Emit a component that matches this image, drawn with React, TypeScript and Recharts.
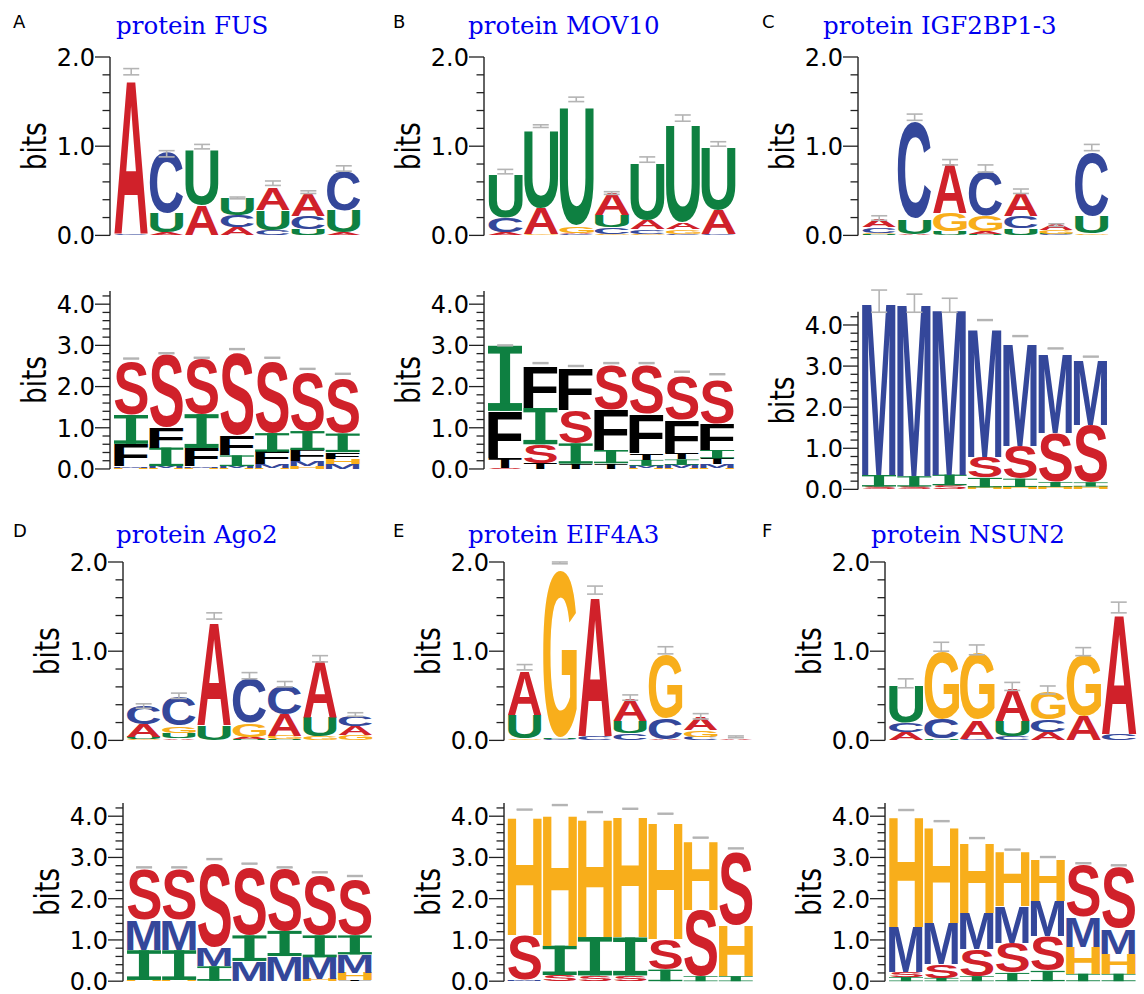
import React from 'react';
import { ComposedChart, Bar, Line, XAxis, YAxis, ErrorBar } from 'recharts';

// ---------- categories / ticks ----------
const POSITIONS = ['1', '2', '3', '4', '5', '6', '7'];
const LAYERS = [0, 1, 2, 3, 4, 5];
const TICKS_SEQ = [0, 0.2, 0.4, 0.6, 0.8, 1, 1.2, 1.4, 1.6, 1.8, 2];
const TICKS_STR = [0, 0.2, 0.4, 0.6, 0.8, 1, 1.2, 1.4, 1.6, 1.8, 2, 2.2, 2.4, 2.6, 2.8, 3, 3.2, 3.4, 3.6, 3.8, 4, 4.2];

// ---------- sequence logos (bits per nucleotide, positions 1..7) ----------
const FUS_SEQ = {
  A: [1.73, 0.03, 0.34, 0.09, 0.24, 0.25, 0.03],
  C: [0.02, 0.68, 0.0, 0.13, 0.06, 0.15, 0.45],
  G: [0.0, 0.0, 0.0, 0.0, 0.0, 0.0, 0.0],
  U: [0.0, 0.22, 0.62, 0.2, 0.22, 0.07, 0.25],
};
const FUS_SEQ_ERR = [[1.8, 1.87], [0.88, 0.95], [0.97, 1.02], [0.41, 0.43], [0.56, 0.61], [0.47, 0.5], [0.72, 0.78]];

const MOV10_SEQ = {
  A: [0.03, 0.29, 0.02, 0.24, 0.1, 0.07, 0.27],
  C: [0.17, 0.0, 0.01, 0.08, 0.05, 0.02, 0.01],
  G: [0.0, 0.01, 0.08, 0.01, 0.02, 0.05, 0.0],
  U: [0.49, 0.88, 1.35, 0.14, 0.64, 1.11, 0.71],
};
const MOV10_SEQ_ERR = [[0.69, 0.74], [1.21, 1.24], [1.5, 1.55], [0.46, 0.49], [0.82, 0.88], [1.28, 1.35], [1.0, 1.05]];

const IGF_SEQ = {
  A: [0.08, 0.01, 0.55, 0.03, 0.26, 0.07, 0.0],
  C: [0.06, 1.09, 0.0, 0.5, 0.14, 0.01, 0.72],
  G: [0.02, 0.0, 0.21, 0.18, 0.0, 0.04, 0.02],
  U: [0.01, 0.17, 0.04, 0.01, 0.08, 0.01, 0.19],
};
const IGF_SEQ_ERR = [[0.17, 0.22], [1.29, 1.36], [0.79, 0.85], [0.71, 0.79], [0.47, 0.52], [0.1, 0.13], [0.95, 1.02]];

const AGO2_SEQ = {
  A: [0.14, 0.02, 1.16, 0.03, 0.24, 0.64, 0.1],
  C: [0.21, 0.33, 0.0, 0.5, 0.33, 0.0, 0.12],
  G: [0.01, 0.08, 0.0, 0.15, 0.04, 0.04, 0.06],
  U: [0.03, 0.06, 0.17, 0.01, 0.01, 0.22, 0.0],
};
const AGO2_SEQ_ERR = [[0.36, 0.41], [0.47, 0.53], [1.36, 1.43], [0.69, 0.76], [0.6, 0.66], [0.88, 0.95], [0.27, 0.31]];

const EIF_SEQ = {
  A: [0.5, 0.0, 1.56, 0.25, 0.01, 0.14, 0.01],
  C: [0.0, 0.01, 0.05, 0.08, 0.24, 0.04, 0.0],
  G: [0.02, 1.88, 0.0, 0.0, 0.72, 0.08, 0.0],
  U: [0.27, 0.01, 0.0, 0.14, 0.0, 0.0, 0.0],
};
const EIF_SEQ_ERR = [[0.79, 0.85], [1.98, 2.0], [1.64, 1.73], [0.45, 0.51], [0.97, 1.05], [0.24, 0.3], [0.03, 0.05]];

const NSUN2_SEQ = {
  A: [0.09, 0.0, 0.21, 0.36, 0.09, 0.27, 1.35],
  C: [0.11, 0.22, 0.02, 0.04, 0.14, 0.0, 0.07],
  G: [0.0, 0.76, 0.74, 0.0, 0.31, 0.68, 0.0],
  U: [0.42, 0.02, 0.0, 0.18, 0.0, 0.0, 0.0],
};
const NSUN2_SEQ_ERR = [[0.59, 0.69], [1.0, 1.1], [0.96, 1.07], [0.56, 0.65], [0.52, 0.61], [0.95, 1.04], [1.43, 1.55]];

// ---------- structure logos (bits per structure context) ----------
const FUS_STR = {
  F: [0.55, 0.49, 0.45, 0.48, 0.31, 0.27, 0.16],
  T: [0, 0, 0, 0, 0, 0, 0],
  I: [0.7, 0.45, 0.82, 0.26, 0.45, 0.46, 0.45],
  H: [0.02, 0.02, 0.02, 0.02, 0.03, 0.07, 0.13],
  M: [0.04, 0.05, 0.04, 0.05, 0.08, 0.12, 0.12],
  S: [1.3, 1.78, 1.36, 2.0, 1.76, 1.42, 1.32],
};
const FUS_STR_ERR = [[2.67, 2.69], [2.8, 2.82], [2.69, 2.71], [2.9, 2.92], [2.69, 2.71], [2.42, 2.44], [2.3, 2.32]];

const MOV10_STR = {
  F: [1.14, 1.02, 1.02, 0.98, 0.95, 0.8, 0.63],
  T: [0.24, 0.14, 0.13, 0.13, 0.17, 0.15, 0.15],
  I: [1.58, 0.88, 0.49, 0.32, 0.14, 0.13, 0.2],
  H: [0.0, 0.0, 0.0, 0.0, 0.02, 0.02, 0.03],
  M: [0.0, 0.0, 0.0, 0.01, 0.06, 0.08, 0.08],
  S: [0.03, 0.46, 0.82, 1.1, 1.18, 1.06, 1.08],
};
const MOV10_STR_ERR = [[2.99, 3.01], [2.56, 2.58], [2.49, 2.51], [2.56, 2.58], [2.56, 2.58], [2.35, 2.37], [2.29, 2.31]];

const IGF_STR = {
  F: [0, 0, 0, 0, 0, 0, 0],
  T: [0, 0, 0, 0, 0, 0, 0],
  I: [0.28, 0.25, 0.26, 0.23, 0.2, 0.12, 0.1],
  H: [0.0, 0.0, 0.0, 0.05, 0.06, 0.06, 0.07],
  M: [4.24, 4.21, 4.07, 3.15, 2.52, 1.95, 1.58],
  S: [0.07, 0.07, 0.1, 0.5, 0.8, 1.2, 1.4],
};
const IGF_STR_ERR = [[4.31, 4.85], [4.31, 4.75], [4.31, 4.65], [4.11, 4.13], [3.72, 3.74], [3.42, 3.44], [3.22, 3.24]];

const AGO2_STR = {
  F: [0, 0, 0, 0, 0, 0, 0],
  T: [0, 0, 0, 0, 0, 0, 0.02],
  I: [0.72, 0.72, 0.35, 0.62, 0.61, 0.53, 0.46],
  H: [0.03, 0.03, 0.01, 0.01, 0.01, 0.06, 0.18],
  M: [0.74, 0.73, 0.45, 0.48, 0.6, 0.52, 0.45],
  S: [1.24, 1.22, 2.05, 1.65, 1.51, 1.44, 1.36],
};
const AGO2_STR_ERR = [[2.75, 2.77], [2.75, 2.77], [2.95, 2.97], [2.84, 2.86], [2.75, 2.77], [2.63, 2.65], [2.54, 2.56]];

const EIF_STR = {
  F: [0, 0, 0, 0, 0, 0, 0],
  T: [0, 0, 0, 0, 0, 0, 0],
  I: [0.0, 0.71, 0.93, 0.92, 0.28, 0.12, 0.12],
  H: [2.88, 3.2, 2.87, 2.94, 2.86, 1.66, 1.23],
  M: [0.02, 0, 0, 0, 0, 0, 0],
  S: [1.1, 0.15, 0.14, 0.14, 0.75, 1.6, 1.78],
};
const EIF_STR_ERR = [[4.15, 4.17], [4.26, 4.28], [4.09, 4.11], [4.17, 4.19], [4.05, 4.07], [3.47, 3.49], [3.21, 3.23]];

const NSUN2_STR = {
  F: [0, 0, 0, 0, 0, 0, 0],
  T: [0, 0, 0, 0, 0, 0, 0],
  I: [0.1, 0.08, 0.12, 0.2, 0.25, 0.18, 0.18],
  H: [2.68, 2.33, 1.71, 1.33, 1.0, 0.65, 0.49],
  M: [1.1, 1.0, 0.89, 0.89, 0.86, 0.73, 0.61],
  S: [0.12, 0.33, 0.65, 0.73, 0.84, 1.26, 1.5],
};
const NSUN2_STR_ERR = [[4.14, 4.16], [3.87, 3.89], [3.46, 3.48], [3.18, 3.2], [3.0, 3.02], [2.85, 2.87], [2.8, 2.82]];

// ---------- text ----------
const PANEL_TAGS = [
  { t: 'A', x: 13, y: 28 }, { t: 'B', x: 393, y: 28 }, { t: 'C', x: 762, y: 28 },
  { t: 'D', x: 13, y: 537 }, { t: 'E', x: 393, y: 537 }, { t: 'F', x: 762, y: 537 },
];
const TITLES = [
  { t: 'protein FUS', x: 116, y: 34 }, { t: 'protein MOV10', x: 468, y: 34 }, { t: 'protein IGF2BP1-3', x: 823, y: 34 },
  { t: 'protein Ago2', x: 116, y: 543 }, { t: 'protein EIF4A3', x: 468, y: 543 }, { t: 'protein NSUN2', x: 871, y: 543 },
];

// ---------- styling ----------
const COLORS: Record<string, string> = {
  A: '#D0212A', C: '#34479A', G: '#F8AE1B', U: '#0E8041',
  S: '#D0212A', I: '#0E8041', F: '#000000', T: '#000000', M: '#34479A', H: '#F8AE1B',
};
const GLYPH_FONT = 'Liberation Sans';
// fallback glyph ink boxes (font units at 2048px): xMin, xMax, yMin, yMax
const METRICS_FALLBACK: Record<string, number[]> = {
  A: [0, 1479, 0, 1466], C: [97, 1382, -25, 1491], G: [100, 1495, -25, 1491], U: [146, 1331, -25, 1466],
  S: [68, 1268, -25, 1491], M: [143, 1563, 0, 1466], F: [150, 1165, 0, 1466], H: [150, 1329, 0, 1466],
  T: [41, 1210, 0, 1466],
};
let METRICS_CACHE: Record<string, number[]> | null = null;
function glyphMetrics(): Record<string, number[]> {
  if (METRICS_CACHE) return METRICS_CACHE;
  const out: Record<string, number[]> = { ...METRICS_FALLBACK };
  try {
    const c = document.createElement('canvas');
    const ctx = c.getContext('2d');
    if (ctx) {
      ctx.font = `bold 2048px "${GLYPH_FONT}"`;
      ctx.textBaseline = 'alphabetic';
      ctx.textAlign = 'left';
      Object.keys(out).forEach((l) => {
        const m = ctx.measureText(l);
        const w = m.actualBoundingBoxRight + m.actualBoundingBoxLeft;
        const h = m.actualBoundingBoxAscent + m.actualBoundingBoxDescent;
        if (w > 100 && h > 100) {
          out[l] = [-m.actualBoundingBoxLeft, m.actualBoundingBoxRight, -m.actualBoundingBoxDescent, m.actualBoundingBoxAscent];
        }
      });
    }
  } catch (e) {
    // keep fallback
  }
  METRICS_CACHE = out;
  return out;
}

function buildRows(series: Record<string, number[]>, err: number[][]) {
  const letters = Object.keys(series);
  return POSITIONS.map((pos, i) => {
    const stack = letters
      .map((l) => ({ l, v: series[l][i] }))
      .filter((d) => d.v > 0)
      .sort((a, b) => a.v - b.v);
    const row: Record<string, any> = {
      pos,
      emid: (err[i][0] + err[i][1]) / 2,
      eerr: (err[i][1] - err[i][0]) / 2,
    };
    LAYERS.forEach((k) => {
      row['h' + k] = stack[k] ? stack[k].v : 0;
      row['l' + k] = stack[k] ? stack[k].l : '';
    });
    return row;
  });
}

function Glyph(props: any) {
  const { x, y, width, height, letter } = props;
  if (!letter || !(height > 0.35) || !(width > 0)) return null;
  const color = COLORS[letter];
  if (letter === 'I') {
    const bh = Math.max(Math.min(height * 0.12, height / 3), 0.7);
    const sw = width * 0.3;
    return (
      <g fill={color}>
        <rect x={x} y={y} width={width} height={bh} />
        <rect x={x + (width - sw) / 2} y={y} width={sw} height={height} />
        <rect x={x} y={y + height - bh} width={width} height={bh} />
      </g>
    );
  }
  const [x0, x1, y0, y1] = glyphMetrics()[letter];
  const sx = width / (x1 - x0);
  const sy = height / (y1 - y0);
  return (
    <text
      transform={`translate(${x - x0 * sx},${y + height + y0 * sy}) scale(${sx},${sy})`}
      fontFamily={GLYPH_FONT}
      fontWeight="bold"
      fontSize={2048}
      fill={color}
    >
      {letter}
    </text>
  );
}

function AxisTick(props: any) {
  const { x, y, payload } = props;
  const v = payload.value;
  const major = Math.abs(v - Math.round(v)) < 1e-6;
  return (
    <g>
      <line x1={x - (major ? 15 : 7.5)} x2={x} y1={y} y2={y} stroke="#222" strokeWidth={1.3} />
      {major && (
        <text x={x - 15} y={y} dy="0.37em" textAnchor="end" fontFamily="DejaVu Sans" fontSize={24} fill="#000">
          {v.toFixed(1)}
        </text>
      )}
    </g>
  );
}

type LogoProps = {
  rows: any[]; axisX: number; zeroY: number; ppb: number; domainMax: number; axisMax: number;
  ticks: number[]; plotRight: number; pad: number;
};

function Logo({ rows, axisX, zeroY, ppb, domainMax, axisMax, ticks, plotRight, pad }: LogoProps) {
  const YW = 105, MT = 14, MB = 18, MR = 4;
  const plotH = domainMax * ppb;
  const plotW = plotRight - axisX;
  const W = YW + plotW + MR;
  const H = MT + plotH + MB;
  const hidden = (domainMax - axisMax) * ppb;
  const axisLine: any = hidden > 0.01
    ? { stroke: '#222', strokeWidth: 1.4, strokeDasharray: `0 ${hidden} ${axisMax * ppb} 3000` }
    : { stroke: '#222', strokeWidth: 1.4 };
  const bits = (p: any) => {
    const vb = p && p.viewBox && p.viewBox.height ? p.viewBox : { x: 0, y: MT, width: YW, height: plotH };
    const ax = vb.x + vb.width;
    const cy = vb.y + vb.height * (1 - axisMax / 2 / domainMax);
    return (
      <text
        transform={`translate(${ax - 64},${cy}) rotate(-90)`}
        textAnchor="middle"
        fontFamily="DejaVu Sans"
        fontSize={33}
        textLength={48}
        lengthAdjust="spacingAndGlyphs"
        fill="#000"
      >
        bits
      </text>
    );
  };
  return (
    <div style={{ position: 'absolute', left: axisX - YW, top: zeroY - plotH - MT, width: W, height: H }}>
      <ComposedChart width={W} height={H} data={rows} margin={{ top: MT, right: MR, bottom: MB, left: 0 }} barCategoryGap={0.5}>
        <XAxis dataKey="pos" hide padding={{ left: pad, right: 0 }} />
        <YAxis
          type="number"
          domain={[0, domainMax]}
          ticks={ticks}
          interval={0}
          tick={(p: any) => <AxisTick {...p} />}
          tickSize={0}
          tickMargin={0}
          tickLine={false}
          axisLine={axisLine}
          width={YW}
          label={{ content: bits }}
        />
        {LAYERS.map((k) => (
          <Bar
            key={k}
            dataKey={'h' + k}
            stackId="s"
            isAnimationActive={false}
            shape={(p: any) => <Glyph {...p} letter={p.payload ? p.payload['l' + k] : ''} />}
          />
        ))}
        <Line dataKey="emid" stroke="none" dot={false} activeDot={false} isAnimationActive={false} legendType="none">
          <ErrorBar dataKey="eerr" width={8} stroke="#b4b4b4" strokeWidth={1.6} isAnimationActive={false} />
        </Line>
      </ComposedChart>
    </div>
  );
}

const PANELS = [
  { rows: buildRows(FUS_SEQ, FUS_SEQ_ERR), axisX: 110, zeroY: 235, ppb: 89.2, domainMax: 2, axisMax: 2, ticks: TICKS_SEQ, plotRight: 361.5, pad: 3.5 },
  { rows: buildRows(MOV10_SEQ, MOV10_SEQ_ERR), axisX: 484, zeroY: 235, ppb: 89.2, domainMax: 2, axisMax: 2, ticks: TICKS_SEQ, plotRight: 736, pad: 3.5 },
  { rows: buildRows(IGF_SEQ, IGF_SEQ_ERR), axisX: 858, zeroY: 235, ppb: 89.2, domainMax: 2, axisMax: 2, ticks: TICKS_SEQ, plotRight: 1109.5, pad: 3.5 },
  { rows: buildRows(FUS_STR, FUS_STR_ERR), axisX: 110, zeroY: 469, ppb: 41.2, domainMax: 4.32, axisMax: 4.32, ticks: TICKS_STR, plotRight: 360.5, pad: 3.5 },
  { rows: buildRows(MOV10_STR, MOV10_STR_ERR), axisX: 484, zeroY: 469, ppb: 41.2, domainMax: 4.32, axisMax: 4.32, ticks: TICKS_STR, plotRight: 735, pad: 3.5 },
  { rows: buildRows(IGF_STR, IGF_STR_ERR), axisX: 858, zeroY: 489.3, ppb: 41.1, domainMax: 4.9, axisMax: 4.32, ticks: TICKS_STR, plotRight: 1108.5, pad: 3.5 },
  { rows: buildRows(AGO2_SEQ, AGO2_SEQ_ERR), axisX: 122.5, zeroY: 740, ppb: 89.2, domainMax: 2, axisMax: 2, ticks: TICKS_SEQ, plotRight: 372.5, pad: 3 },
  { rows: buildRows(EIF_SEQ, EIF_SEQ_ERR), axisX: 503.5, zeroY: 740, ppb: 89.2, domainMax: 2, axisMax: 2, ticks: TICKS_SEQ, plotRight: 753, pad: 3 },
  { rows: buildRows(NSUN2_SEQ, NSUN2_SEQ_ERR), axisX: 884.5, zeroY: 740, ppb: 89.2, domainMax: 2, axisMax: 2, ticks: TICKS_SEQ, plotRight: 1136, pad: 3 },
  { rows: buildRows(AGO2_STR, AGO2_STR_ERR), axisX: 122.5, zeroY: 981, ppb: 41.25, domainMax: 4.32, axisMax: 4.32, ticks: TICKS_STR, plotRight: 372, pad: 3.5 },
  { rows: buildRows(EIF_STR, EIF_STR_ERR), axisX: 503.5, zeroY: 981, ppb: 41.25, domainMax: 4.32, axisMax: 4.32, ticks: TICKS_STR, plotRight: 753, pad: 3 },
  { rows: buildRows(NSUN2_STR, NSUN2_STR_ERR), axisX: 884.5, zeroY: 981, ppb: 41.25, domainMax: 4.32, axisMax: 4.32, ticks: TICKS_STR, plotRight: 1136, pad: 3.5 },
];

export default function App() {
  return (
    <div style={{ position: 'absolute', left: 0, top: 0, width: 1144, height: 994, background: '#fff', overflow: 'hidden' }}>
      {PANELS.map((p, i) => (
        <Logo key={i} {...p} />
      ))}
      <svg width={1144} height={994} style={{ position: 'absolute', left: 0, top: 0, pointerEvents: 'none' }}>
        {PANEL_TAGS.map((d) => (
          <text key={d.t} x={d.x} y={d.y} fontFamily="DejaVu Sans" fontSize={18} fill="#000">
            {d.t}
          </text>
        ))}
        {TITLES.map((d) => (
          <text key={d.t} x={d.x} y={d.y} fontFamily="DejaVu Serif" fontSize={24.5} fill="#0000f0">
            {d.t}
          </text>
        ))}
      </svg>
    </div>
  );
}
